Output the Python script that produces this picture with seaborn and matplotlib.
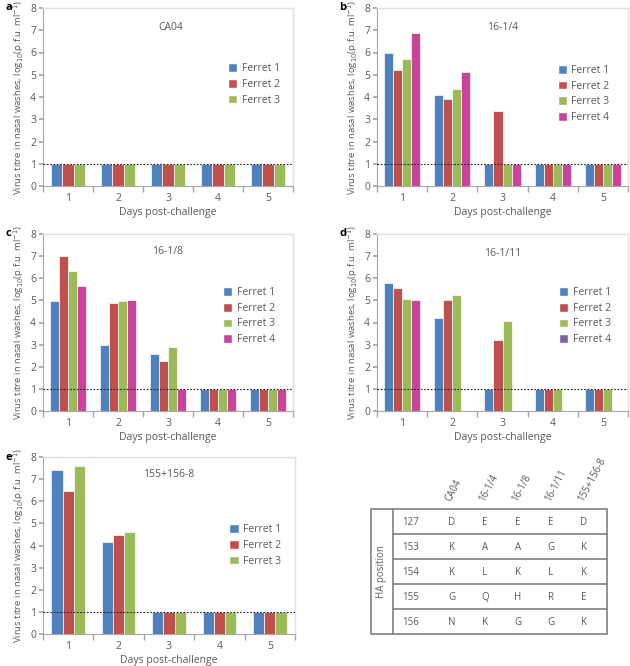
import pandas as pd
import numpy as np
import matplotlib
matplotlib.use("Agg")
import matplotlib.pyplot as plt
import matplotlib.patches as mpatches
import seaborn as sns

# ---- data ----
days = ["1", "2", "3", "4", "5"]
ferrets3 = ["Ferret 1", "Ferret 2", "Ferret 3"]
ferrets4 = ["Ferret 1", "Ferret 2", "Ferret 3", "Ferret 4"]

ca04_f1 = [1, 1, 1, 1, 1]
ca04_f2 = [1, 1, 1, 1, 1]
ca04_f3 = [1, 1, 1, 1, 1]

s14_f1 = [5.98, 4.08, 1, 1, 1]
s14_f2 = [5.21, 3.89, 3.39, 1, 1]
s14_f3 = [5.71, 4.38, 1, 1, 1]
s14_f4 = [6.88, 5.12, 1, 1, 1]

s18_f1 = [4.98, 2.99, 2.59, 1, 1]
s18_f2 = [7.01, 4.90, 2.28, 1, 1]
s18_f3 = [6.35, 4.95, 2.88, 1, 1]
s18_f4 = [5.67, 5.01, 1, 1, 1]

s111_f1 = [5.79, 4.21, 1, 1, 1]
s111_f2 = [5.55, 5.02, 3.21, 1, 1]
s111_f3 = [5.07, 5.26, 4.09, 1, 1]
s111_f4 = [5.02, np.nan, np.nan, np.nan, np.nan]

s155_f1 = [7.41, 4.18, 1, 1, 1]
s155_f2 = [6.48, 4.47, 1, 1, 1]
s155_f3 = [7.60, 4.60, 1, 1, 1]

strains = ["CA04", "16-1/4", "16-1/8", "16-1/11", "155+156-8"]
ha_positions = ["127", "153", "154", "155", "156"]
res_ca04 = ["D", "K", "K", "G", "N"]
res_14 = ["E", "A", "L", "Q", "K"]
res_18 = ["E", "A", "K", "H", "G"]
res_111 = ["E", "G", "L", "R", "G"]
res_155 = ["D", "K", "K", "E", "K"]

colors = ["#4F81BD", "#C0504D", "#9BBB59", "#C8449B"]
legend4_d = ["#4F81BD", "#C0504D", "#9BBB59", "#8064A2"]

sns.set_theme(style="white")
plt.rcParams["font.family"] = ["Open Sans", "DejaVu Sans"]
txt = "#595959"

W, H = 630, 666
fig = plt.figure(figsize=(W / 100, H / 100), dpi=100)


def px_axes(l, t, r, b):
    return fig.add_axes([l / W, 1 - b / H, (r - l) / W, (b - t) / H])


def panel(ax, series, names, title, letter, leg_pos, title_pos, leg_colors=None, width=0.67):
    rows = []
    for name, vals in zip(names, series):
        for d, v in zip(days, vals):
            rows.append({"day": d, "ferret": name, "titre": v})
    df = pd.DataFrame(rows)
    sns.barplot(data=df, x="day", y="titre", hue="ferret", hue_order=names,
                palette=colors[:len(names)], width=width, ax=ax,
                edgecolor="white", linewidth=0.5, legend=False, saturation=1)
    ax.axhline(1, color="#222222", ls=(0, (1.5, 1.5)), lw=0.8, zorder=5)
    ax.set_xlim(-0.5, 4.5)
    ax.set_ylim(0, 8)
    ax.set_yticks(range(0, 9))
    ax.set_xticks(np.arange(-0.5, 5, 1), minor=True)
    ax.tick_params(axis="x", which="major", length=0, labelsize=7.5, colors=txt, pad=5)
    ax.tick_params(axis="x", which="minor", length=4, color="#a6a6a6", direction="out", bottom=True)
    ax.tick_params(axis="y", length=3, color="#a6a6a6", labelsize=7.5, labelcolor=txt,
                   direction="out", left=True, pad=2)
    for s in ["top", "right"]:
        ax.spines[s].set_color("#e0e0e0")
        ax.spines[s].set_linewidth(1.0)
    for s in ["left", "bottom"]:
        ax.spines[s].set_color("#a6a6a6")
        ax.spines[s].set_linewidth(0.8)
    ax.set_xlabel("Days post-challenge", fontsize=7.5, color=txt, labelpad=2)
    ax.set_ylabel(r"Virus titre in nasal washes, log$_{10}$(p.f.u. ml$^{-1}$)",
                  fontsize=6.8, color=txt, labelpad=3)
    ax.text(title_pos[0], title_pos[1], title, transform=ax.transAxes, ha="center",
            va="center", fontsize=7.5, color=txt)
    lc = leg_colors if leg_colors else colors[:len(names)]
    handles = [mpatches.Patch(facecolor=c, edgecolor="white", label=n) for c, n in zip(lc, names)]
    leg = ax.legend(handles=handles, loc="upper left", bbox_to_anchor=leg_pos, frameon=False,
                    fontsize=7.5, handlelength=0.9, handleheight=0.9, handletextpad=0.4,
                    labelspacing=0.45, borderpad=0, borderaxespad=0)
    for t in leg.get_texts():
        t.set_color(txt)
    ax.text(-0.15, 1.0, letter, transform=ax.transAxes, fontsize=8, fontweight="bold",
            ha="left", va="center", color="black")


ax_a = px_axes(43, 8, 293, 186)
panel(ax_a, [ca04_f1, ca04_f2, ca04_f3], ferrets3, "CA04", "a", (0.74, 0.69), (0.51, 0.89))

ax_b = px_axes(377, 8, 628, 186)
panel(ax_b, [s14_f1, s14_f2, s14_f3, s14_f4], ferrets4, "16-1/4", "b", (0.72, 0.68), (0.50, 0.89),
      width=0.72)

ax_c = px_axes(43, 234, 293, 411)
panel(ax_c, [s18_f1, s18_f2, s18_f3, s18_f4], ferrets4, "16-1/8", "c", (0.72, 0.70), (0.50, 0.90),
      width=0.72)

ax_d = px_axes(377, 234, 628, 411)
panel(ax_d, [s111_f1, s111_f2, s111_f3, s111_f4], ferrets4, "16-1/11", "d", (0.725, 0.70),
      (0.50, 0.89), leg_colors=legend4_d, width=0.72)

ax_e = px_axes(43, 457, 295, 634)
panel(ax_e, [s155_f1, s155_f2, s155_f3], ferrets3, "155+156-8", "e", (0.74, 0.62), (0.50, 0.90))

# ---- HA residue table ----
ax_t = px_axes(371, 509, 607, 634)
residues = [res_ca04, res_14, res_18, res_111, res_155]
ax_t.set_xlim(-2.45, 4.7)
ax_t.set_ylim(4.5, -0.5)
ax_t.axis("off")
lc = "#808080"
ax_t.add_patch(mpatches.Rectangle((-2.45, -0.5), 7.15, 5, fill=False, edgecolor=lc, lw=1.2,
                                  clip_on=False))
ax_t.plot([-1.79, -1.79], [-0.5, 4.5], color=lc, lw=1.2, clip_on=False)
for i in range(1, len(ha_positions)):
    ax_t.plot([-1.79, 4.7], [i - 0.5, i - 0.5], color=lc, lw=1.2, clip_on=False)
for i, p in enumerate(ha_positions):
    ax_t.text(-1.52, i + 0.05, p, ha="left", va="center", fontsize=7, color=txt)
for j, s in enumerate(strains):
    for i, r in enumerate(residues[j]):
        ax_t.text(j, i + 0.05, r, ha="center", va="center", fontsize=7, color=txt)
    ax_t.text(j + 0.05, -0.72, s, ha="left", va="bottom", rotation=62, rotation_mode="anchor",
              fontsize=7, color=txt, clip_on=False)
ax_t.text(-2.12, 2.0, "HA position", rotation=90, ha="center", va="center", fontsize=7,
          color=txt)

fig.savefig("out.png", dpi=100, facecolor="white")
